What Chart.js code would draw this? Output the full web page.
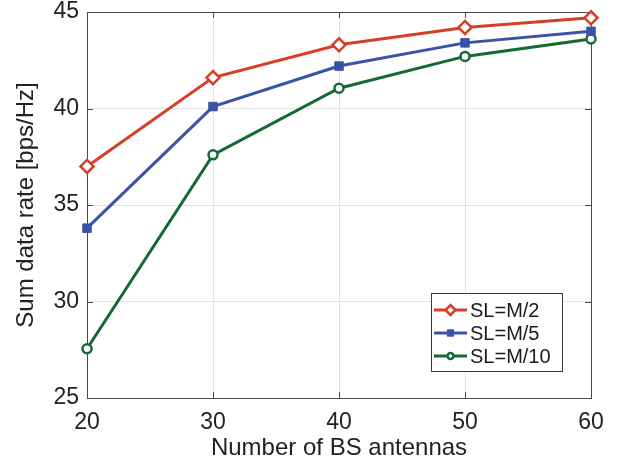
<!DOCTYPE html>
<html>
<head>
<meta charset="utf-8">
<script src="https://cdn.jsdelivr.net/npm/chart.js@4/dist/chart.umd.min.js"></script>
<style>
  html, body { margin: 0; padding: 0; background: #fff; }
  #wrap { width: 620px; height: 467px; }
</style>
</head>
<body>
<div id="wrap"><canvas id="chart" width="620" height="467"></canvas></div>
<script>
const antennas = [20, 30, 40, 50, 60];
const slHalf = [37.0, 41.6, 43.3, 44.2, 44.7];
const slFifth = [33.8, 40.1, 42.2, 43.4, 44.0];
const slTenth = [27.55, 37.6, 41.05, 42.7, 43.6];
const seriesNames = ['SL=M/2', 'SL=M/5', 'SL=M/10'];
const yTicks = [25, 30, 35, 40, 45];

const FONT = 'Liberation Sans, Arial, Helvetica, sans-serif';
const RED = 'rgb(215,62,42)';
const BLUE = 'rgb(57,84,166)';
const GREEN = 'rgb(22,105,53)';

function pts(vals) {
    return antennas.map((a, i) => ({ x: a, y: vals[i] }));
}

// box, inner ticks and legend, matlab style
const boxPlugin = {
    id: 'box',
    beforeDatasetsDraw(chart) {
        const { ctx, chartArea: a, scales } = chart;
        ctx.save();
        ctx.strokeStyle = '#4a4a4a';
        ctx.lineWidth = 1;
        ctx.beginPath();
        antennas.forEach(v => {
            const x = Math.round(scales.x.getPixelForValue(v)) + 0.5;
            ctx.moveTo(x, a.bottom); ctx.lineTo(x, a.bottom - 6);
            ctx.moveTo(x, a.top); ctx.lineTo(x, a.top + 6);
        });
        yTicks.forEach(v => {
            const y = Math.round(scales.y.getPixelForValue(v)) + 0.5;
            ctx.moveTo(a.left, y); ctx.lineTo(a.left + 6, y);
            ctx.moveTo(a.right, y); ctx.lineTo(a.right - 6, y);
        });
        ctx.stroke();
        ctx.strokeRect(Math.round(a.left) + 0.5, Math.round(a.top) + 0.5,
            Math.round(a.right - a.left), Math.round(a.bottom - a.top));
        ctx.restore();
    },
    afterDatasetsDraw(chart) {
        const { ctx } = chart;
        const bx = 431, by = 293, bw = 131, bh = 78;
        ctx.save();
        ctx.fillStyle = '#fff';
        ctx.fillRect(bx, by, bw, bh);
        ctx.strokeStyle = '#3a3a3a';
        ctx.lineWidth = 1;
        ctx.strokeRect(bx + 0.5, by + 0.5, bw, bh);
        const rows = [310, 333, 356];
        chart.data.datasets.forEach((ds, i) => {
            const y = rows[i];
            ctx.strokeStyle = ds.borderColor;
            ctx.lineWidth = 3;
            ctx.beginPath();
            ctx.moveTo(434, y); ctx.lineTo(467, y);
            ctx.stroke();
            ctx.fillStyle = ds.pointBackgroundColor;
            ctx.strokeStyle = ds.pointBorderColor;
            ctx.lineWidth = ds.pointBorderWidth;
            Chart.helpers.drawPoint(ctx, {
                pointStyle: ds.pointStyle,
                radius: ds.pointRadius - 1.5,
                borderWidth: ds.pointBorderWidth
            }, 450.5, y);
            ctx.fillStyle = '#1a1a1a';
            ctx.font = '20px ' + FONT;
            ctx.textBaseline = 'middle';
            ctx.fillText(ds.label, 470, y + 1);
        });
        ctx.restore();
    }
};

new Chart(document.getElementById('chart'), {
    type: 'line',
    data: {
        datasets: [
            {
                label: seriesNames[0], data: pts(slHalf),
                borderColor: RED, backgroundColor: '#fff',
                pointStyle: 'rectRot', pointRadius: 6.5, pointBorderWidth: 2.5,
                pointBackgroundColor: '#fff', pointBorderColor: RED
            },
            {
                label: seriesNames[1], data: pts(slFifth),
                borderColor: BLUE, backgroundColor: BLUE,
                pointStyle: 'rect', pointRadius: 6, pointBorderWidth: 1,
                pointBackgroundColor: BLUE, pointBorderColor: BLUE
            },
            {
                label: seriesNames[2], data: pts(slTenth),
                borderColor: GREEN, backgroundColor: '#fff',
                pointStyle: 'circle', pointRadius: 4.5, pointBorderWidth: 2.5,
                pointBackgroundColor: '#fff', pointBorderColor: GREEN
            }
        ].map(d => Object.assign(d, { borderWidth: 3, tension: 0, clip: false, fill: false }))
    },
    options: {
        responsive: false,
        animation: false,
        events: [],
        layout: { padding: { top: 12, right: 29, left: 0, bottom: 0 } },
        plugins: { legend: { display: false }, tooltip: { enabled: false } },
        scales: {
            x: {
                type: 'linear', min: 20, max: 60,
                afterFit: s => { s.height = 69; s.paddingLeft = 0; s.paddingRight = 0; },
                afterBuildTicks: s => { s.ticks = antennas.map(v => ({ value: v })); },
                grid: { color: '#e3e3e3', drawTicks: false },
                border: { display: false },
                ticks: { color: '#222', font: { family: FONT, size: 23 }, padding: 11, maxRotation: 0 },
                title: { display: true, text: 'Number of BS antennas', color: '#222',
                    font: { family: FONT, size: 24 }, padding: { top: 0, bottom: 4 } }
            },
            y: {
                min: 25, max: 45,
                afterFit: s => { s.width = 87; s.paddingTop = 0; s.paddingBottom = 0; },
                afterBuildTicks: s => { s.ticks = yTicks.map(v => ({ value: v })); },
                grid: { color: '#e3e3e3', drawTicks: false },
                border: { display: false },
                ticks: { color: '#222', font: { family: FONT, size: 23 }, padding: 8 },
                title: { display: true, text: 'Sum data rate [bps/Hz]', color: '#222',
                    font: { family: FONT, size: 24 }, padding: { top: 12, bottom: 0 } }
            }
        }
    },
    plugins: [boxPlugin]
});
</script>
</body>
</html>
